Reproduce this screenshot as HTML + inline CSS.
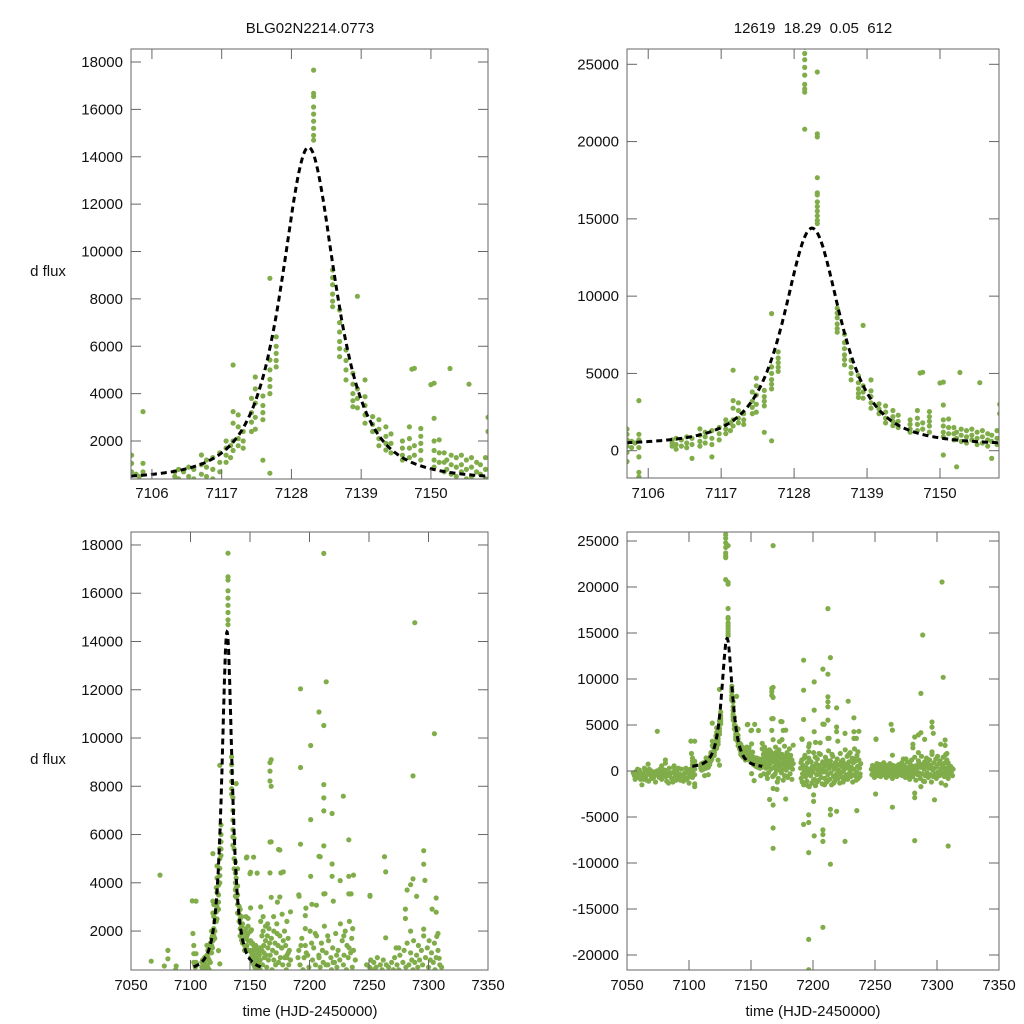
<!DOCTYPE html>
<html><head><meta charset="utf-8"><style>
html,body{margin:0;padding:0;background:#fff;width:1024px;height:1024px;overflow:hidden}
svg{display:block;font-family:"Liberation Sans",Arial,sans-serif}
</style></head><body>
<svg id="chart" width="1024" height="1024" viewBox="0 0 1024 1024">
<text x="310" y="33" text-anchor="middle" font-size="15" fill="#111">BLG02N2214.0773</text>
<text x="813" y="33" text-anchor="middle" font-size="15" fill="#111" xml:space="preserve">12619  18.29  0.05  612</text>
<text x="48" y="276" text-anchor="middle" font-size="15" fill="#111">d flux</text>
<text x="48" y="764" text-anchor="middle" font-size="15" fill="#111">d flux</text>
<text x="310" y="1016" text-anchor="middle" font-size="15" fill="#111">time (HJD-2450000)</text>
<text x="813" y="1016" text-anchor="middle" font-size="15" fill="#111">time (HJD-2450000)</text>
</svg>
<script>
// ---- data (time, d flux) ----
const baselineT=[7055,7056,7057,7058,7059,7060,7061,7062,7062.5,7063,7064,7065,7066,7067,7068,7069,7070,7071,7072,7073,7074,7074.4,7075.5,7076,7077,7078,7079,7080,7081,7082,7082.5,7083,7084,7085,7086,7087,7088,7089,7090,7091,7092,7093,7094,7095,7096,7097,7098,7099,7100,7100.5,7101,7101.5,7056.5,7058.5,7060.5,7063.5,7065.5,7067.5,7069.5,7071.5,7073.5,7076.5,7078.5,7080.5,7083.5,7085.5,7087.5,7089.5,7091.5,7093.5,7095.5,7097.5,7099.5,7067,7081,7081,7078,7088,7101.5,7102];
const baselineF=[-200,-500,-100,-700,-300,100,-900,-1500,-400,-200,300,-600,-1000,-300,200,-500,-800,-100,-400,-1200,0,4320,-300,-700,-200,-900,100,-400,-600,-1100,-200,-500,300,-300,-800,-1200,-100,-500,0,-700,-300,-1000,200,-400,-600,-200,-900,-100,-1300,-500,200,-300,-900,200,-600,-900,100,-1100,0,-700,-400,200,-500,100,-1300,-200,400,-1000,300,-500,-1100,300,-700,750,1200,850,550,550,3250,1900];
const eventT=[7102.8,7102.8,7102.8,7102.8,7102.8,7102.8,7103.5,7103.5,7104.6,7104.6,7104.6,7104.6,7104.6,7104.6,7104.6,7104,7109.6,7109.6,7109.6,7110.2,7110.2,7110.2,7111,7111,7111.8,7111.8,7111.8,7112.6,7112.6,7112.6,7113.8,7113.8,7113.8,7113.8,7114.6,7114.6,7114.6,7115.6,7115.6,7115.6,7115.6,7116.7,7116.7,7116.7,7117.7,7117.7,7117.7,7117.7,7118.4,7118.4,7118.8,7118.8,7118.8,7118.8,7118.8,7119.6,7119.6,7119.6,7119.6,7120.4,7120.4,7120.4,7121.7,7121.7,7121.7,7121.7,7122.3,7122.3,7122.3,7122.3,7122.3,7123.5,7123.5,7123.5,7123.5,7123.5,7124.6,7124.6,7124.6,7124.6,7124.6,7124.6,7124.6,7125.6,7125.6,7125.6,7125.6,7125.6,7129.6,7129.6,7129.6,7129.6,7129.6,7129.6,7129.6,7129.6,7129.6,7131.5,7131.5,7131.5,7131.5,7131.5,7131.5,7131.5,7131.5,7131.5,7131.5,7131.5,7131.5,7134.5,7134.5,7134.5,7134.5,7134.5,7134.5,7135.6,7135.6,7135.6,7135.6,7135.6,7135.6,7136.6,7136.6,7136.6,7136.6,7137.7,7137.7,7137.7,7137.7,7137.7,7138.4,7138.4,7138.4,7138.4,7139.6,7139.6,7139.6,7139.6,7139.6,7140.8,7140.8,7140.8,7141.8,7141.8,7141.8,7141.8,7142.9,7142.9,7142.9,7142.9,7143.7,7143.7,7143.7,7145.5,7145.5,7145.5,7145.5,7146.6,7146.6,7146.6,7146.6,7147.4,7147.4,7147.4,7148.4,7148.4,7148.4,7148.4,7148.4,7150.5,7150.5,7150.5,7150.5,7150.5,7150.5,7150.5,7151.3,7151.3,7151.3,7152.1,7152.1,7152.1,7152.5,7152.5,7152.5,7153.2,7153.2,7153.2,7154,7154,7154,7154.8,7154.8,7154.8,7155.6,7155.6,7155.6,7156.4,7156.4,7156.4,7157.2,7157.2,7157.2,7157.8,7157.8,7157.8,7158.6,7158.6,7158.6,7147,7150,7153,7156];
const eventF=[1400,1060,700,300,-100,-700,600,200,3240,1060,700,200,-400,-1400,-1700,500,700,500,300,800,400,100,700,300,900,500,200,800,400,-500,1410,1000,600,300,1200,900,500,1300,800,400,-400,1500,1100,700,2000,1700,1400,1100,1800,1300,5210,3240,2750,2000,1600,3100,2600,2100,1800,2400,2000,1700,3800,3200,2800,2400,4700,4200,3600,3000,2500,3900,3500,3200,2900,1190,8870,5420,5000,4600,4300,4000,640,6400,6000,5700,5400,5130,26100,25700,25300,24800,24300,23700,23400,23200,20800,24500,20500,20300,17660,16680,16550,16100,15800,15500,15200,14900,14700,9220,8900,8600,8200,7900,7670,7530,7000,6600,6200,5900,5560,5840,5400,5000,4580,4860,4400,4000,3700,3450,8110,4200,3800,3400,4580,3870,3500,3100,2750,3030,2700,2400,2900,2500,2100,1800,2600,2200,1900,1620,2300,1900,1500,2000,1700,1400,1200,2600,2100,1700,1300,5070,1800,1400,2530,2200,1900,1600,1200,4440,2960,2000,1600,1200,900,-280,2050,1500,1100,1500,1100,700,1200,800,-1040,1400,1000,600,1300,900,500,1400,1000,700,1200,800,400,1300,900,500,1100,700,300,1000,600,-500,1300,800,400,5030,4380,5060,4400];
const postT=[7159,7159,7160,7160,7160.5,7161,7161,7161.5,7162,7162,7162.5,7163,7163,7163.5,7164,7164,7164.5,7165,7165,7165.5,7166,7166,7166.5,7166.8,7166.8,7166.8,7166.8,7166.8,7167,7167.5,7167.8,7167.8,7167.8,7167.8,7167.8,7167.8,7167.8,7167.8,7167.8,7168,7168.5,7169,7169.5,7170,7170,7170.5,7171,7171.5,7172,7172,7172.5,7173,7173.5,7174,7174,7174.5,7175,7175,7175.5,7176,7176,7176.5,7177,7177,7177.5,7178,7178,7178,7178.5,7179,7179,7179.5,7180,7180.5,7181,7181,7181.5,7182,7182.5,7183,7183,7183.5,7184,7184,7173,7175,7171,7176,7160.3,7161.7,7163.2,7164.8,7168.2,7169.8,7171.2,7172.8,7174.2,7176.8,7179.2,7180.8,7182.2];
const postF=[3000,2400,1800,1200,600,2600,2000,1400,900,300,-400,2200,1600,1000,500,-200,1800,1300,-3100,800,2100,200,1500,8980,8630,8220,5690,4410,1000,-600,24500,9100,8000,5700,3400,-1900,-3700,-6200,-8400,1700,400,1200,-300,2000,800,100,1500,600,-800,1100,2300,300,1400,5380,700,-200,1800,5360,900,4410,200,1300,2700,-500,600,4450,1600,-3040,100,2000,900,-700,1400,400,2400,1000,-300,1700,600,-900,1200,200,800,2800,3200,3410,-2000,-1000,-300,1100,-800,2300,-500,2600,-1200,1900,-100,1300,-600,900,1100];
const midT=[7190,7190.5,7191,7191.5,7192,7192.5,7193,7193.5,7194,7194.5,7195,7195.5,7196,7196.5,7197,7197.5,7198,7198.5,7199,7199.5,7200,7200.5,7201,7201.5,7202,7202.5,7203,7203.5,7204,7204.5,7205,7205.5,7206,7206.5,7207,7207.5,7208,7208.5,7209,7209.5,7210,7210.5,7211,7211.5,7212,7212.5,7213,7213.5,7214,7214.5,7215,7215.5,7216,7216.5,7217,7217.5,7218,7218.5,7219,7219.5,7220,7220.5,7221,7221.5,7222,7222.5,7223,7223.5,7224,7224.5,7225,7225.5,7226,7226.5,7227,7227.5,7228,7228.5,7229,7229.5,7230,7230.5,7231,7231.5,7232,7232.5,7233,7233.5,7234,7234.5,7235,7235.5,7236,7236.5,7237,7237.5,7238,7238.5,7190.3,7191.3,7192.8,7194.3,7195.8,7197.3,7198.8,7200.3,7201.8,7203.3,7204.8,7206.3,7207.8,7209.3,7210.8,7212.3,7213.8,7215.3,7216.8,7218.3,7219.8,7221.3,7222.8,7224.3,7225.8,7227.3,7228.8,7230.3,7231.8,7233.3,7234.8,7236.3,7237.8,7192.4,7192.4,7192.4,7191,7192.4,7196.5,7196.5,7196.5,7196.5,7196.5,7201,7201,7201,7201,7196.5,7196.5,7205.8,7208,7208,7208,7208,7208,7208,7212,7212,7212,7212,7212,7212,7212,7214,7214,7214,7214,7219,7219,7219,7219,7225.8,7225.8,7228.4,7233,7233,7235.3,7233,7200.5,7200.5,7191.3,7197,7202,7209,7213,7220,7235,7237];
const midF=[300,-800,1200,-300,600,-1500,100,1700,-600,400,-1100,900,-200,1400,-1700,200,-500,1000,-1300,500,-100,2000,-900,300,-1600,800,-400,1300,100,-1000,600,-300,1800,-700,200,-1400,900,-100,500,-800,1500,0,-1200,700,-400,2200,300,-900,1100,-200,-1500,600,1600,-600,200,-1100,900,400,-300,1300,-800,100,700,-1300,1900,-200,500,-700,1200,0,-1000,800,2300,-400,300,1600,-900,600,1000,-200,2000,-600,400,1400,-1200,900,200,2400,-500,1100,-100,1700,500,-800,1200,300,-300,800,900,-1200,1400,-100,-1600,1100,-200,-1000,1500,-1200,1900,-100,1000,-1500,1200,-1000,600,1800,-1300,-500,700,-300,1000,-1200,300,-700,1800,100,-400,1300,-1000,2100,-600,12040,8780,5600,3500,-5800,-5600,-4760,-8870,-18300,-21600,9690,6620,4270,-7050,2640,2100,3070,11080,5100,-6400,-6900,-7650,-16990,17650,10520,8070,7520,6980,5530,3540,12330,-10130,-4160,-4760,6870,4780,4270,-4380,4090,-7650,7590,5780,4270,-4300,3540,-2600,-3300,3440,2950,3110,5080,3550,3240,3540,4320];
const lateT=[7247,7247.5,7248,7248.5,7249,7249.5,7250,7250.5,7251,7251.5,7252,7252.5,7253,7253.5,7254,7254.5,7255,7255.5,7256,7256.5,7257,7257.5,7258,7258.5,7259,7259.5,7260,7260.5,7261,7261.5,7262,7262.5,7263,7263.5,7264,7264.5,7265,7265.5,7266,7266.5,7267,7267.5,7268,7268.5,7269,7269.5,7270,7270.5,7271,7271.5,7272,7272.5,7273,7273.5,7274,7274.5,7275,7275.5,7276,7276.5,7277,7277.5,7278,7278.5,7279,7279.5,7280,7280.5,7281,7281.5,7282,7282.5,7283,7283.5,7284,7284.5,7285,7285.5,7286,7286.5,7287,7287.5,7288,7288.5,7289,7289.5,7290,7290.5,7291,7291.5,7292,7292.5,7293,7293.5,7294,7294.5,7295,7295.5,7296,7296.5,7297,7297.5,7298,7298.5,7299,7299.5,7300,7300.5,7301,7301.5,7302,7302.5,7303,7303.5,7304,7304.5,7305,7305.5,7306,7306.5,7307,7307.5,7308,7308.5,7309,7309.5,7310,7310.5,7311,7311.5,7312,7312.5,7313,7250.8,7250.8,7250.5,7263,7264,7264,7264,7272.8,7275,7280.6,7280.6,7282,7282,7282,7282,7285,7285,7287,7287,7287,7288.5,7290,7290,7296,7296,7297,7296,7298,7303,7304,7305,7306.5,7306.5,7307,7307,7308,7309,7309];
const lateF=[200,-400,600,-100,300,-700,100,500,-300,800,-500,0,400,-200,700,-600,200,-100,500,-400,900,0,-300,300,-700,600,100,-200,400,-500,800,0,-300,300,-800,600,-100,200,-400,500,0,-600,300,-200,700,100,-400,400,-100,900,-500,200,-200,600,0,-700,400,-300,1000,100,-500,300,-900,700,-100,1200,200,-600,500,-300,1500,0,-1000,600,300,-400,1100,-200,800,-800,400,1600,-300,700,-1100,200,1000,-500,500,1400,-200,800,-700,300,1200,-400,600,-1200,1800,100,-600,900,300,-300,1300,-800,500,1600,-100,800,-500,1100,200,-1300,700,-200,1500,400,-600,900,100,-400,1200,300,-800,600,0,-300,500,-100,300,-500,200,3440,3480,-2500,5080,4450,1720,-3930,1300,1300,2910,2520,3700,-2400,-2900,-7560,3920,2000,8430,4160,-1700,14780,3440,-1140,5330,4770,4100,2080,-3130,2910,20540,10180,3370,2780,1780,-1540,1900,-8150,870];
// ---- fitted model parameters (peak time, peak amplitude, width, baseline) ----
const modelParams=[7130.7,14050,6.6,350];
const modelRange=[7102.7,7159.0];
// ---- axis ticks ----
const xTicksZoom=[7106,7117,7128,7139,7150];
const xTicksFull=[7050,7100,7150,7200,7250,7300,7350];
const yTicksLeft=[2000,4000,6000,8000,10000,12000,14000,16000,18000];
const yTicksRightTop=[0,5000,10000,15000,20000,25000];
const yTicksRightBottom=[-20000,-15000,-10000,-5000,0,5000,10000,15000,20000,25000];

const allT=[].concat(baselineT,eventT,postT,midT,lateT);
const allF=[].concat(baselineF,eventF,postF,midF,lateF);

const NS="http://www.w3.org/2000/svg";
const svg=document.getElementById('chart');
function mk(tag,attrs,parent){const e=document.createElementNS(NS,tag);for(const k in attrs)e.setAttribute(k,attrs[k]);(parent||svg).appendChild(e);return e;}
function model(t){const p=modelParams;const d=(t-p[0])/p[2];return p[3]+p[1]/Math.pow(1+d*d,1.5);}

const panels=[
 {id:'top-left',x0:131,x1:488,y0:49,y1:479,t0:7102.7,t1:7159.0,fmin:396,fmax:18549,xt:xTicksZoom,yt:yTicksLeft,xly:498},
 {id:'top-right',x0:627,x1:999,y0:49,y1:478,t0:7102.8,t1:7158.9,fmin:-1766,fmax:25990,xt:xTicksZoom,yt:yTicksRightTop,xly:498},
 {id:'bottom-left',x0:131,x1:488,y0:532,y1:970,t0:7050,t1:7350,fmin:386,fmax:18538,xt:xTicksFull,yt:yTicksLeft,xly:990},
 {id:'bottom-right',x0:627,x1:999,y0:532,y1:970,t0:7050,t1:7350,fmin:-21630,fmax:25978,xt:xTicksFull,yt:yTicksRightBottom,xly:990}
];
panels.forEach(function(P,i){
  const X=t=>P.x0+(t-P.t0)/(P.t1-P.t0)*(P.x1-P.x0);
  const Y=f=>P.y1-(f-P.fmin)/(P.fmax-P.fmin)*(P.y1-P.y0);
  const g=mk('g',{});
  
  
  const cp=mk('clipPath',{id:'clip'+i},g);
  mk('rect',{x:P.x0,y:P.y0,width:P.x1-P.x0,height:P.y1-P.y0},cp);
  const pts=mk('g',{'clip-path':'url(#clip'+i+')',fill:'#80ad4a'},g);
  
  
  for(let k=0;k<allT.length;k++){
    const cx=X(allT[k]),cy=Y(allF[k]);
    if(cx<P.x0-3||cx>P.x1+3||cy<P.y0-3||cy>P.y1+3)continue;
    const c=mk('circle',{cx:cx.toFixed(1),cy:cy.toFixed(1),r:2.6},pts);
    
    
  }
  let d='';
  for(let s=0;s<=300;s++){const t=modelRange[0]+(modelRange[1]-modelRange[0])*s/300;d+=(s?'L':'M')+X(t).toFixed(1)+' '+Math.min(P.y1,Y(model(t))).toFixed(1);}
  const cv=mk('path',{d:d,fill:'none',stroke:'#000','stroke-width':3,'stroke-dasharray':'6 4','clip-path':'url(#clip'+i+')'},g);
  
  
  const fr=mk('rect',{x:P.x0,y:P.y0,width:P.x1-P.x0,height:P.y1-P.y0,fill:'none',stroke:'#666','stroke-width':1},g);
  
  
  P.xt.forEach(function(t){
    const x=X(t);
    if(x>P.x0+1&&x<P.x1-1){
      mk('line',{x1:x,y1:P.y1,x2:x,y2:P.y1-10,stroke:'#666'},g);
      mk('line',{x1:x,y1:P.y0,x2:x,y2:P.y0+10,stroke:'#666'},g);
    }
    const tx=mk('text',{x:x,y:P.xly,'text-anchor':'middle','font-size':15,fill:'#111'},g);
    tx.textContent=t;
    
    
  });
  P.yt.forEach(function(f){
    const y=Y(f);
    mk('line',{x1:P.x0,y1:y,x2:P.x0+10,y2:y,stroke:'#666'},g);
    mk('line',{x1:P.x1,y1:y,x2:P.x1-10,y2:y,stroke:'#666'},g);
    const tx=mk('text',{x:P.x0-8,y:y+5,'text-anchor':'end','font-size':15,fill:'#111'},g);
    tx.textContent=f;
    
    
  });
});
</script>
</body></html>
